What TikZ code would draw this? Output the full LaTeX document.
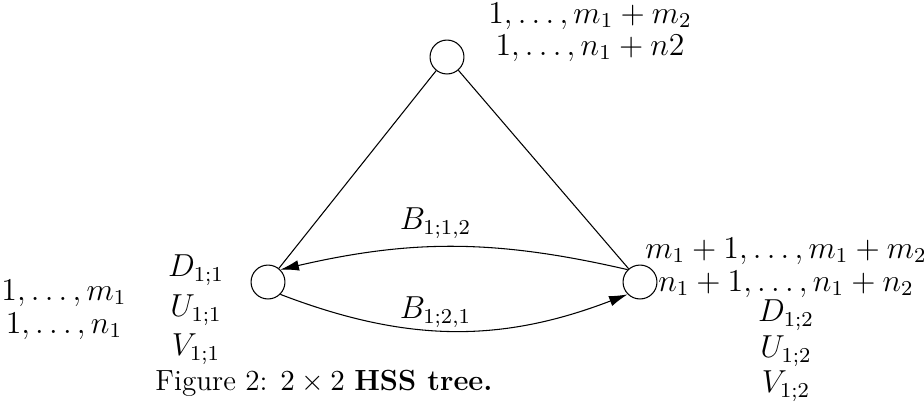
\documentclass[tikz,border=0pt]{standalone}
\usetikzlibrary{arrows.meta}
\begin{document}
\begin{tikzpicture}[x=0.3774pt,y=-0.3774pt,font=\large,
  vtx/.style={circle,draw,minimum size=12.8pt,inner sep=0pt},
  lbl/.style={inner sep=0pt,align=center},
  arr/.style={-{Latex[length=7pt,width=4pt]}}]
\useasboundingbox (0,0) rectangle (924,402);
\node[vtx] (t) at (447,57) {};
\node[vtx] (l) at (268,282) {};
\node[vtx] (r) at (640,282) {};
\draw (t) -- (l);
\draw (t) -- (r);
\draw[arr] (r.north west) to[bend right=13] node[above,inner sep=3pt,xshift=-7pt] (b12) {$B_{1;1,2}$} (l.north east);
\draw[arr] (l.south east) to[bend right=21] node[above,inner sep=1pt,xshift=-7pt] (b21) {$B_{1;2,1}$} (r.south west);
\node[lbl] (tr1) at (590,16) {$1,\ldots,m_1+m_2$};
\node[lbl] (tr2) at (590,48) {$1,\ldots,n_1+n2$};
\node[lbl] (lr1) at (64,293) {$1,\ldots,m_1$};
\node[lbl] (lr2) at (64,326) {$1,\ldots,n_1$};
\node[lbl] (d1) at (196,270) {$D_{1;1}$};
\node[lbl] (u1) at (196,310) {$U_{1;1}$};
\node[lbl] (v1) at (196,349) {$V_{1;1}$};
\node[lbl] (rr1) at (786,251) {$m_1+1,\ldots,m_1+m_2$};
\node[lbl] (rr2) at (786,284) {$n_1+1,\ldots,n_1+n_2$};
\node[lbl] (d2) at (786,315) {$D_{1;2}$};
\node[lbl] (u2) at (786,351) {$U_{1;2}$};
\node[lbl] (v2) at (786,386) {$V_{1;2}$};
\node[lbl,font=\fontsize{11}{13}\selectfont] (cap) at (324,383) {Figure 2: $2\times 2$ \textbf{HSS tree.}};
\end{tikzpicture}
\end{document}
